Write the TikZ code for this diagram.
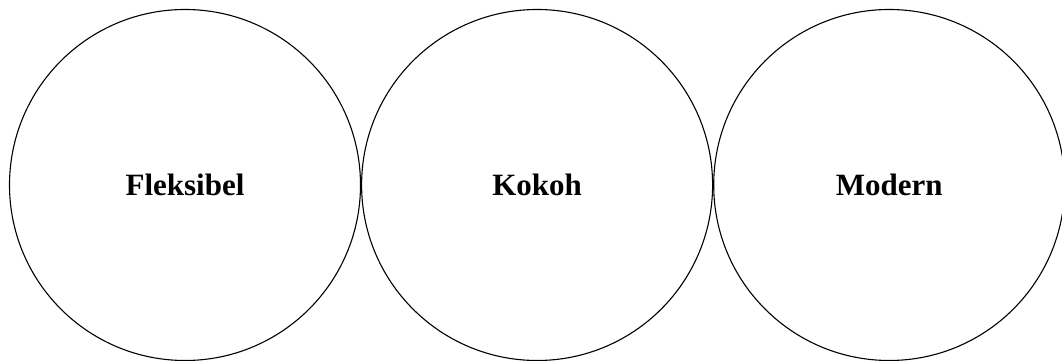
\documentclass[tikz,border=0pt]{standalone}
\usepackage{fontspec}
\setmainfont{Liberation Serif}
\usetikzlibrary{positioning}

\begin{document}
\begin{tikzpicture}[
        x=1pt, y=1pt,
        bubble/.style={draw=black, line width=1.1pt, circle, inner sep=0pt,
          minimum size=351pt, font=\fontsize{31}{36}\selectfont\bfseries}
      ]
        \useasboundingbox[clip] (0,0) rectangle (1062,361);

        % three touching circles
        \node[bubble] (fleksibel) at (185,176) {Fleksibel};
        \node[bubble,right=0pt of fleksibel] (kokoh) {Kokoh};
        \node[bubble,right=0pt of kokoh] (modern) {Modern};
      \end{tikzpicture}
\end{document}
